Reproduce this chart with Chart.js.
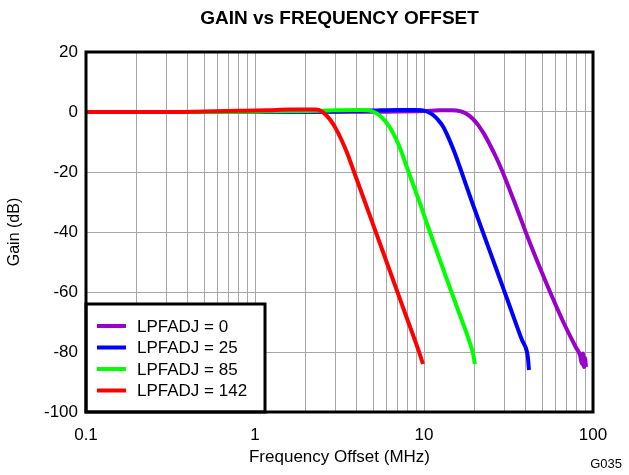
<!DOCTYPE html>
<html>
<head>
<meta charset="utf-8">
<title>Gain vs Frequency Offset</title>
<script src="https://cdn.jsdelivr.net/npm/chart.js@4.4.1/dist/chart.umd.min.js"></script>
<style>
  html, body { margin: 0; padding: 0; background: #fff; }
  #wrap { width: 629px; height: 475px; position: relative; }
</style>
</head>
<body>
<div id="wrap"><canvas id="gainChart" width="629" height="475"></canvas></div>
<script>
// Filter response per LPFADJ setting: frequency offset (MHz) and gain (dB)
const seriesLabels = ['LPFADJ = 0', 'LPFADJ = 25', 'LPFADJ = 85', 'LPFADJ = 142'];
const seriesColors = ['#9900CC', '#0000FF', '#00FF00', '#FF0000'];

const freqAdj0 = [0.1, 1, 5, 10, 12.43, 14.64, 16.33, 17.72, 19.23, 20.87, 22.65, 24.58, 26.67, 28.94, 34.55, 41.25, 48.59, 57.21, 67.35, 79.31, 83.76, 86.07, 87.25, 88.45, 89.66, 90.9];
const gainAdj0 = [0, 0, 0.1, 0.3, 0.6, 0.6, 0.3, -0.5, -2.0, -4.3, -7.3, -11, -15, -19.5, -30.5, -42, -52, -61.5, -70.5, -78.5, -81, -84, -80.5, -85, -82, -85];

const freqAdj25 = [0.1, 1, 3, 5, 7, 8.85, 9.73, 10.56, 11.31, 12.1, 12.96, 13.87, 15.05, 16.33, 19.23, 22.96, 27.04, 32.28, 38.01, 40.69, 41.3, 41.8];
const gainAdj25 = [0, 0, 0.2, 0.5, 0.7, 0.7, 0.6, 0, -1.0, -2.6, -4.8, -8.2, -13, -18.5, -30, -42, -53, -65, -76, -80, -82.5, -86];

const freqAdj85 = [0.1, 0.5, 1, 2, 3, 4.18, 4.66, 5.06, 5.42, 5.80, 6.21, 6.65, 7.21, 7.93, 9.47, 11.15, 13.3, 15.9, 18.7, 19.5, 20.0];
const gainAdj85 = [0, 0, 0.1, 0.3, 0.6, 0.7, 0.6, 0, -1.0, -2.6, -4.7, -7.6, -12, -18.5, -30.5, -42, -54, -66, -77, -80.5, -84];

const freqAdj142 = [0.1, 0.3, 0.5, 0.8, 1.2, 1.6, 2.0, 2.30, 2.46, 2.63, 2.82, 3.02, 3.23, 3.50, 3.80, 4.54, 5.42, 6.47, 7.72, 9.22, 9.60, 9.86];
const gainAdj142 = [0, 0, 0.2, 0.4, 0.6, 0.8, 0.8, 0.8, 0.3, -1.0, -3.0, -5.7, -9.0, -13.5, -19, -31, -43, -55, -67, -79, -82, -84];

const xTickValues = [0.1, 1, 10, 100];
const yTickMin = -100;
const yTickMax = 20;
const yTickStep = 20;

const FONT = "'Liberation Sans', Arial, sans-serif";

function toPoints(xs, ys) {
  return xs.map((x, i) => ({ x: x, y: ys[i] }));
}

const seriesData = [
  toPoints(freqAdj0, gainAdj0),
  toPoints(freqAdj25, gainAdj25),
  toPoints(freqAdj85, gainAdj85),
  toPoints(freqAdj142, gainAdj142)
];

// red drawn last so it sits on top of the flat passband
const datasets = seriesData.map((pts, i) => ({
  label: seriesLabels[i],
  data: pts,
  borderColor: seriesColors[i],
  backgroundColor: seriesColors[i],
  borderWidth: 4,
  pointRadius: 0,
  fill: false,
  cubicInterpolationMode: 'monotone',
  order: seriesData.length - i
}));

// title, frame, inset legend and figure tag
const decorPlugin = {
  id: 'decor',
  afterDraw(chart) {
    const { ctx, chartArea: a } = chart;
    ctx.save();

    ctx.fillStyle = '#000';
    ctx.font = 'bold 19px ' + FONT;
    ctx.textAlign = 'center';
    ctx.textBaseline = 'middle';
    ctx.fillText('GAIN vs FREQUENCY OFFSET', (a.left + a.right) / 2, 19);

    // legend box in the lower-left corner of the plot
    const lx = a.left, ly = 304, lw = 179, lh = a.bottom - 304;
    ctx.fillStyle = '#fff';
    ctx.fillRect(lx, ly, lw, lh);
    ctx.lineWidth = 3;
    ctx.strokeStyle = '#000';
    ctx.strokeRect(lx, ly, lw, lh);
    ctx.font = '17px ' + FONT;
    ctx.textAlign = 'left';
    seriesLabels.forEach((label, i) => {
      const y = 326 + i * 21.5;
      ctx.strokeStyle = seriesColors[i];
      ctx.lineWidth = 4;
      ctx.beginPath();
      ctx.moveTo(lx + 11, y);
      ctx.lineTo(lx + 40, y);
      ctx.stroke();
      ctx.fillStyle = '#000';
      ctx.fillText(label, lx + 51, y + 1);
    });

    ctx.strokeStyle = '#000';
    ctx.lineWidth = 3;
    ctx.strokeRect(a.left, a.top, a.right - a.left, a.bottom - a.top);

    ctx.font = '13px ' + FONT;
    ctx.textAlign = 'right';
    ctx.fillStyle = '#000';
    ctx.fillText('G035', 622, 464);
    ctx.restore();
  }
};

new Chart(document.getElementById('gainChart'), {
  type: 'line',
  data: { datasets },
  options: {
    responsive: false,
    animation: false,
    layout: { padding: { top: 52, right: 36, left: 0, bottom: 0 } },
    plugins: {
      legend: { display: false },
      title: { display: false },
      tooltip: { enabled: false }
    },
    scales: {
      x: {
        type: 'logarithmic',
        min: 0.1,
        max: 100,
        afterBuildTicks(scale) {
          const ticks = [];
          for (let d = 0.1; d < 100; d *= 10) {
            for (let m = 1; m < 10; m++) ticks.push({ value: +(m * d).toPrecision(3) });
          }
          ticks.push({ value: 100 });
          scale.ticks = ticks;
        },
        afterFit(scale) { scale.height = 63; },
        grid: { color: '#a6a6a6', lineWidth: 1, drawTicks: false },
        border: { display: false },
        ticks: {
          autoSkip: false,
          maxRotation: 0,
          padding: 13,
          color: '#000',
          font: { family: FONT, size: 17 },
          callback(value) {
            return xTickValues.some(v => Math.abs(v - value) < 1e-9) ? String(value) : '';
          }
        },
        title: {
          display: true,
          text: 'Frequency Offset (MHz)',
          color: '#000',
          font: { family: FONT, size: 17 },
          padding: { top: 0, bottom: 7 }
        }
      },
      y: {
        min: yTickMin,
        max: yTickMax,
        afterFit(scale) { scale.width = 86; },
        grid: { color: '#a6a6a6', lineWidth: 1, drawTicks: false },
        border: { display: false },
        ticks: {
          stepSize: yTickStep,
          padding: 8,
          color: '#000',
          font: { family: FONT, size: 17 }
        },
        title: {
          display: true,
          text: 'Gain (dB)',
          color: '#000',
          font: { family: FONT, size: 16 },
          padding: { top: 5, bottom: 0 }
        }
      }
    }
  },
  plugins: [decorPlugin]
});
</script>
</body>
</html>
